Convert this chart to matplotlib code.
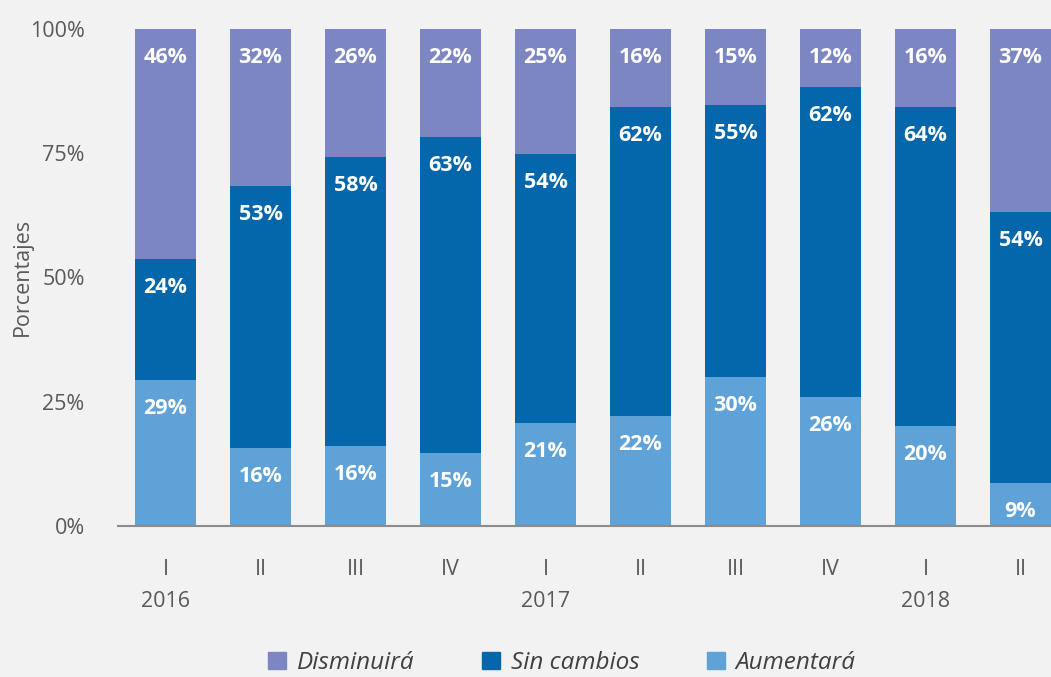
import numpy as np
import matplotlib.pyplot as plt
from matplotlib.patches import Patch

# Valores (porcentajes)
trimestres = ["I", "II", "III", "IV", "I", "II", "III", "IV", "I", "II"]
anios = {0: "2016", 4: "2017", 8: "2018"}
aumentara = [29.4, 15.7, 16.1, 14.7, 20.7, 22.1, 30.0, 26.0, 20.1, 8.7]
sin_cambios = [24.3, 52.7, 58.1, 63.6, 54.1, 62.2, 54.7, 62.3, 64.2, 54.5]
disminuira = [46.3, 31.6, 25.8, 21.7, 25.2, 15.7, 15.3, 11.7, 15.7, 36.8]
lab_aum = [29, 16, 16, 15, 21, 22, 30, 26, 20, 9]
lab_sin = [24, 53, 58, 63, 54, 62, 55, 62, 64, 54]
lab_dis = [46, 32, 26, 22, 25, 16, 15, 12, 16, 37]

c_dis = "#7b86c2"
c_sin = "#0467ab"
c_aum = "#5fa2d8"
bg = "#f2f2f2"

plt.rcParams['font.family'] = ['Open Sans', 'DejaVu Sans']

fig = plt.figure(figsize=(10.51, 6.77), dpi=100, facecolor=bg)
ax = fig.add_axes([118 / 1051, 151 / 677, 950 / 1051, 497 / 677], facecolor=bg)

x = np.arange(len(trimestres))
w = 0.64
aum = np.array(aumentara)
sin = np.array(sin_cambios)
dis = np.array(disminuira)
tot = aum + sin + dis
aum, sin, dis = aum / tot * 100, sin / tot * 100, dis / tot * 100

ax.bar(x, aum, w, color=c_aum)
ax.bar(x, sin, w, bottom=aum, color=c_sin)
ax.bar(x, dis, w, bottom=aum + sin, color=c_dis)

# etiquetas dentro del extremo superior de cada segmento
off = 5.7
for i in x:
    for top, lab in [(aum[i], lab_aum[i]), (aum[i] + sin[i], lab_sin[i]), (100, lab_dis[i])]:
        ax.text(i, top - off, f"{lab}%", ha="center", va="center",
                color="white", fontsize=15.5, fontweight="bold")

ax.set_xlim(-0.5, len(x) - 0.5)
ax.set_ylim(0, 100)
ax.set_yticks([0, 25, 50, 75, 100])
ax.set_yticklabels(["0%", "25%", "50%", "75%", "100%"])
ax.set_xticks(x)
ax.set_xticklabels(trimestres)
ax.tick_params(axis="both", length=0, colors="#595959", labelsize=15.5)
ax.tick_params(axis="x", pad=24)
ax.tick_params(axis="y", pad=24)
for i, a in anios.items():
    ax.text(i, -15.2, a, ha="center", va="center", fontsize=15.5, color="#595959")

for s in ["top", "right", "left"]:
    ax.spines[s].set_visible(False)
ax.spines["bottom"].set_color("#8c8c8c")
ax.spines["bottom"].set_linewidth(1.5)

fig.text(22 / 1051, 1 - 277 / 677, "Porcentajes", rotation=90, ha="center", va="center",
         fontsize=15.5, color="#595959")

handles = [Patch(color=c_dis, label="Disminuirá"),
           Patch(color=c_sin, label="Sin cambios"),
           Patch(color=c_aum, label="Aumentará")]
leg = fig.legend(handles=handles, loc="center", bbox_to_anchor=(562 / 1051, 1 - 663 / 677),
                 ncol=3, frameon=False, handlelength=0.75, handleheight=0.75,
                 columnspacing=2.75, handletextpad=0.45,
                 prop={"style": "italic", "size": 17.5})
for t in leg.get_texts():
    t.set_color("#404040")

plt.savefig("out.png", dpi=100, facecolor=bg)
